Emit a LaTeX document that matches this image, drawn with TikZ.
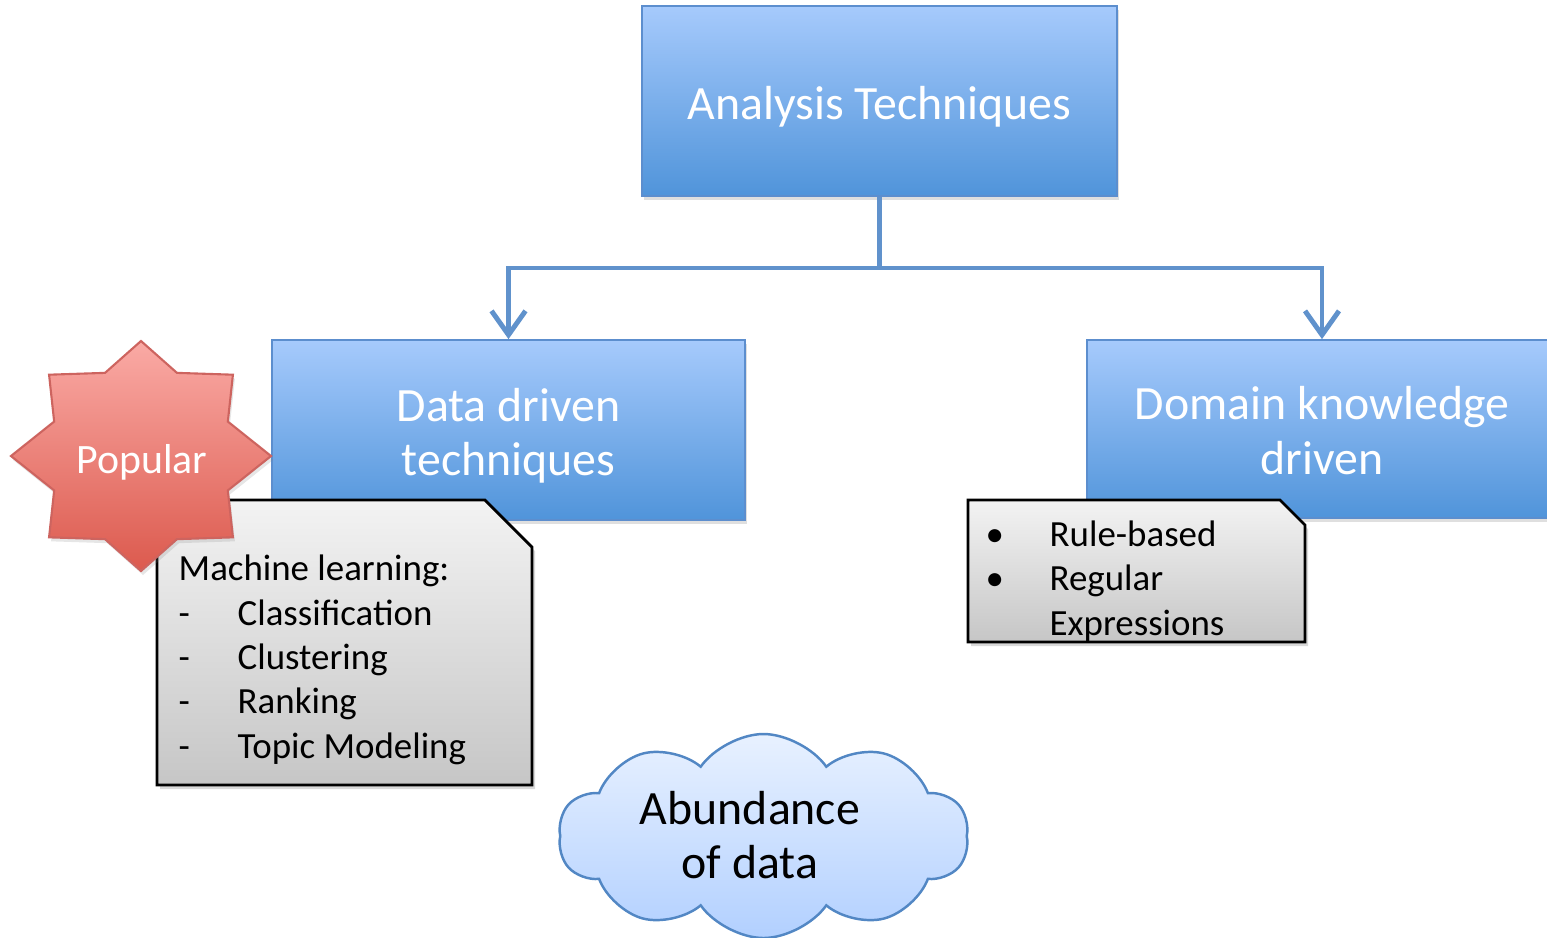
\documentclass[tikz,border=0pt]{standalone}
\usepackage{fontspec}
\setmainfont{Carlito}
\usetikzlibrary{arrows.meta, positioning, shapes.symbols, shadows}

\definecolor{boxtop}{RGB}{166,202,252}
\definecolor{boxbot}{RGB}{80,148,218}
\definecolor{boxedge}{RGB}{92,142,206}
\definecolor{linkblue}{RGB}{96,146,204}
\definecolor{startop}{RGB}{250,170,165}
\definecolor{starbot}{RGB}{220,90,78}
\definecolor{staredge}{RGB}{205,100,95}
\definecolor{notetop}{RGB}{243,243,243}
\definecolor{notebot}{RGB}{198,198,198}
\definecolor{cloudtop}{RGB}{232,241,255}
\definecolor{cloudbot}{RGB}{178,208,255}
\definecolor{cloudedge}{RGB}{82,135,196}

\newcommand{\dashitem}{\makebox[0.59cm][l]{-}}
\newcommand{\bulitem}{\makebox[0.64cm][l]{\textbullet}}
\newcommand{\boxtext}[2]{\raisebox{-#1}[\height][\depth]{\begin{tabular}{@{}c@{}}#2\end{tabular}}}

\begin{document}
\begin{tikzpicture}[
    box/.style={rectangle, draw=boxedge, line width=0.5pt, top color=boxtop, bottom color=boxbot, minimum width=4.73cm, minimum height=1.80cm, text=white, align=center, font=\fontsize{13.6}{15.6}\selectfont, drop shadow={shadow xshift=0.02cm, shadow yshift=-0.04cm, opacity=0.25}},
    note/.style={draw=black, line width=0.8pt, top color=notetop, bottom color=notebot, drop shadow={shadow xshift=0.03cm, shadow yshift=-0.04cm, opacity=0.3}},
    notetext/.style={align=left, inner sep=0pt, font=\fontsize{10.5}{12.6}\selectfont},
    link/.style={draw=linkblue, line width=1.4pt, -{Straight Barb[length=0.24cm, width=0.34cm]}},
    starburst/.style={draw=staredge, line width=0.6pt, top color=startop, bottom color=starbot, drop shadow={shadow xshift=0.02cm, shadow yshift=-0.04cm, opacity=0.2}},
    cloudy/.style={cloud, cloud puffs=10, cloud puff arc=110, aspect=2, draw=cloudedge, line width=0.7pt, top color=cloudtop, bottom color=cloudbot, minimum width=4.10cm, minimum height=2.04cm, inner sep=0pt}
]
\useasboundingbox (0,0) rectangle (15.47,-9.37);

% Boxes
\node[box, minimum width=4.75cm, minimum height=1.90cm] (analysis) at (8.795,-1.01) {\boxtext{0.08cm}{Analysis Techniques}};
\node[box] (datadriven) at (5.085,-4.30) {\boxtext{0.075cm}{Data driven\\techniques}};
\node[box, minimum width=4.70cm, minimum height=1.78cm] (domain) at (13.22,-4.29) {\boxtext{0.07cm}{Domain knowledge\\driven}};

% Connectors
\coordinate (fork) at (8.795,-2.68);
\draw[link] (analysis.south) -- (fork) -| (datadriven.north);
\draw[link] (fork) -| (domain.north);

% Notes
\path[note] (1.57,-5.00) -- (4.85,-5.00) -- (5.32,-5.47) -- (5.32,-7.85) -- (1.57,-7.85) -- cycle;
\node[notetext, anchor=base west] (mllist) at (1.78,-7.58) {Machine learning:\\\dashitem Classification\\\dashitem Clustering\\\dashitem Ranking\\\dashitem Topic Modeling};

\path[note] (9.68,-5.00) -- (12.80,-5.00) -- (13.05,-5.25) -- (13.05,-6.42) -- (9.68,-6.42) -- cycle;
\node[notetext, anchor=base west] (rulelist) at (9.85,-6.35) {\bulitem Rule-based\\\bulitem Regular\\\hspace*{0.64cm}Expressions};

% Popular star
\begin{scope}[shift={(1.41,-4.56)}]
\path[starburst] (0:1.30 and 1.15) \foreach \a in {0,45,...,315} { -- ({\a+22.5}:0.94 and 0.90) -- ({\a+45}:1.30 and 1.15)} -- cycle;
\end{scope}
\node[text=white, font=\fontsize{11.9}{14}\selectfont] (popular) at (1.42,-4.62) {Popular};

% Cloud
\node[cloudy] (cloudshape) at (7.635,-8.36) {};
\node[align=center, font=\fontsize{13.6}{15.6}\selectfont] (abundance) at (7.50,-8.35) {Abundance\\of data};

\end{tikzpicture}
\end{document}
